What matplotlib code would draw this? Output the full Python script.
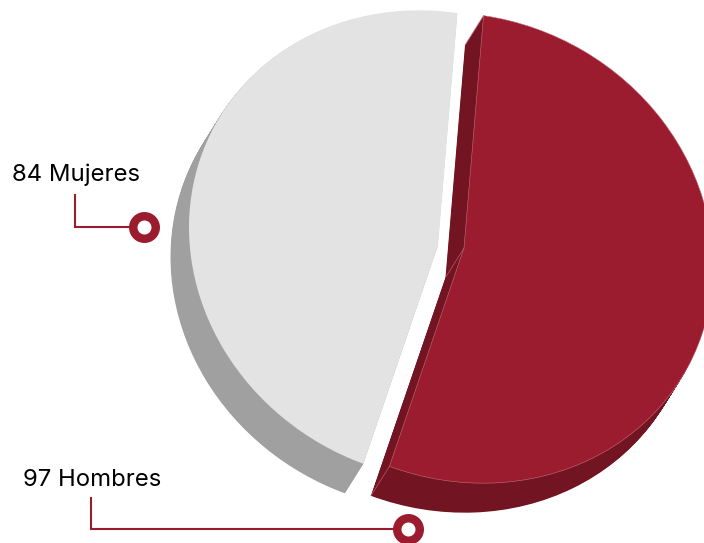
import matplotlib
matplotlib.use("Agg")
import matplotlib.pyplot as plt
from matplotlib.transforms import Affine2D
import numpy as np

plt.rcParams['font.family'] = ['Inter', 'DejaVu Sans']

labels = ["97 Hombres", "84 Mujeres"]
values = [97, 84]
face_colors = ["#9b1c2e", "#e3e3e3"]
side_colors = ["#731422", "#a0a0a0"]
accent = "#9b1c2e"

W, H = 704, 543
# the pie is a tilted ellipse, so map the unit pie to pixels by hand
tilt = Affine2D.from_values(249, 18, 0, -234.5, 0, 0)
centers = [(464, 248), (438, 245.5)]
side_dx, side_dy = -18.5, 29.5

fig = plt.figure(figsize=(7.04, 5.43), dpi=100)
ax = fig.add_axes([0, 0, 1, 1])


def draw_pie(colors, dx, dy):
    wedges, _ = ax.pie(values, colors=colors, startangle=85.5, counterclock=False)
    for w, (cx, cy) in zip(wedges, centers):
        w.set_transform(tilt + Affine2D().translate(cx + dx, cy + dy) + ax.transData)
    return wedges


# sweep the pie down-left to fake the 3d side, then the top face
steps = 40
for i in range(steps, 0, -1):
    draw_pie(side_colors, side_dx * i / steps, side_dy * i / steps)
wedges = draw_pie(face_colors, 0, 0)

# faint seams between the red face and its side
red = wedges[0]
rcx, rcy = centers[0]
for ang in [None, red.theta1, red.theta2]:
    if ang is None:
        sx, sy = rcx, rcy
    else:
        ux, uy = tilt.transform((np.cos(np.radians(ang)), np.sin(np.radians(ang))))
        sx, sy = rcx + ux, rcy + uy
    ax.plot([sx, sx + side_dx], [sy, sy + side_dy], color="#b85a68", lw=0.5, zorder=3)
red.set_edgecolor("#c4707c")
red.set_linewidth(0.4)

ax.set_aspect("auto")
ax.set_xlim(0, W)
ax.set_ylim(H, 0)
ax.axis("off")

# callouts
ax.plot([75, 75, 143], [195, 227, 227], color=accent, lw=1.5, solid_joinstyle="miter", zorder=5)
ax.plot([90.5, 90.5, 408], [498, 529, 529], color=accent, lw=1.5, solid_joinstyle="miter", zorder=5)
ax.scatter([143.5, 408], [226.5, 529], s=262, facecolor="white", edgecolor=accent,
           linewidth=6.1, zorder=6, clip_on=False)

ax.text(75.5, 174.5, labels[1], fontsize=17.2, color="black", ha="center", va="center")
ax.text(92, 479.5, labels[0], fontsize=17.2, color="black", ha="center", va="center")

fig.savefig("out.png", dpi=100)
